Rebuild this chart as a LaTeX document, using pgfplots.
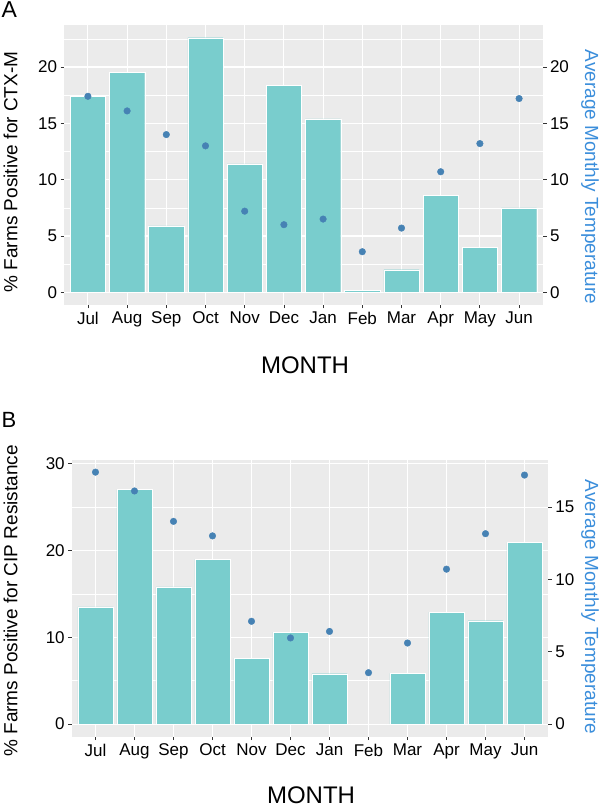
\documentclass[border=0pt]{standalone}
\usepackage{fontspec}
\setmainfont{Liberation Sans}
\usepackage{pgfplots}
\pgfplotsset{compat=1.18}
\definecolor{barc}{HTML}{79CDCD}
\definecolor{bgc}{HTML}{EBEBEB}
\definecolor{ptc}{HTML}{4682B4}
\definecolor{ttlc}{HTML}{3B8EDB}
\definecolor{tkc}{HTML}{333333}
\pgfplotsset{
 gg/.style={
  scale only axis,
  anchor=south west,
  xmin=-0.61, xmax=11.61,
  axis line style={draw=none},
  tick align=outside,
  major tick length=3.5bp,
  minor tick length=0bp,
  tick style={tkc, line width=0.8bp},
  ticklabel style={font=\fontsize{17bp}{19bp}\selectfont, text=black},
  /pgf/number format/assume math mode=true,
  xtick={0,...,11},
  xticklabels={Jul,Aug,Sep,Oct,Nov,Dec,Jan,Feb,Mar,Apr,May,Jun},
 },
 ggleft/.style={
  gg,
  tick pos=left,
  axis background/.style={fill=bgc},
  grid=both,
  xminorgrids=false,
  major grid style={white, line width=1.1bp},
  minor grid style={white, line width=0.55bp},
 },
 ggright/.style={
  gg,
  hide x axis,
  ytick pos=right,
  yticklabel pos=right,
 },
}
\begin{document}
\begin{tikzpicture}
\path[use as bounding box] (0,0) rectangle (600bp,808bp);
% ---------------- Panel A ----------------
\begin{axis}[ggleft, at={(64bp,503bp)}, width=479bp, height=280bp,
  ymin=-1.13, ymax=23.73, ytick={0,5,10,15,20}, minor ytick={2.5,7.5,12.5,17.5,22.5}]
\addplot[ybar, bar width=0.9, fill=barc, draw=white, line width=0.4bp] coordinates {
 (0,17.4) (1,19.5) (2,5.9) (3,22.6) (4,11.4) (5,18.4) (6,15.4) (7,0.15) (8,2.0) (9,8.6) (10,4.0) (11,7.5)};
\end{axis}
\begin{axis}[ggright, at={(64bp,503bp)}, width=479bp, height=280bp,
  ymin=-1.13, ymax=23.73, ytick={0,5,10,15,20}]
\addplot[only marks, mark=*, mark size=3.3bp, color=ptc] coordinates {
 (0,17.4) (1,16.1) (2,14.0) (3,13.0) (4,7.2) (5,6.0) (6,6.5) (7,3.6) (8,5.7) (9,10.7) (10,13.2) (11,17.2)};
\end{axis}
% ---------------- Panel B ----------------
\begin{axis}[ggleft, at={(71.7bp,71.3bp)}, width=476.6bp, height=276.7bp,
  ymin=-1.45, ymax=30.4, ytick={0,10,20,30}, minor ytick={5,15,25}]
\addplot[ybar, bar width=0.9, fill=barc, draw=white, line width=0.4bp] coordinates {
 (0,13.5) (1,27.0) (2,15.8) (3,19.0) (4,7.6) (5,10.6) (6,5.8) (7,0) (8,5.85) (9,12.9) (10,11.9) (11,20.9)};
\end{axis}
\begin{axis}[ggright, at={(71.7bp,71.3bp)}, width=476.6bp, height=276.7bp,
  ymin=-0.87, ymax=18.24, ytick={0,5,10,15}]
\addplot[only marks, mark=*, mark size=3.3bp, color=ptc] coordinates {
 (0,17.4) (1,16.1) (2,14.0) (3,13.0) (4,7.1) (5,5.95) (6,6.4) (7,3.55) (8,5.6) (9,10.7) (10,13.15) (11,17.2)};
\end{axis}
% ---------------- Titles ----------------
\node[anchor=base west, inner sep=0pt, font=\fontsize{23bp}{26bp}\selectfont] at (1.5bp,790bp) {A};
\node[anchor=base west, inner sep=0pt, font=\fontsize{22bp}{25bp}\selectfont] at (1.5bp,380bp) {B};
\node[anchor=base, rotate=90, inner sep=0pt, font=\fontsize{19bp}{22bp}\selectfont] at (17.3bp,636bp) {\% Farms Positive for CTX-M};
\node[anchor=base, rotate=-90, inner sep=0pt, text=ttlc, font=\fontsize{19bp}{22bp}\selectfont] at (585bp,631bp) {Average Monthly Temperature};
\node[anchor=base, inner sep=0pt, font=\fontsize{24bp}{27bp}\selectfont] at (305bp,434bp) {MONTH};
\node[anchor=base, rotate=90, inner sep=0pt, font=\fontsize{19bp}{22bp}\selectfont] at (17.3bp,207bp) {\% Farms Positive for CIP Resistance};
\node[anchor=base, rotate=-90, inner sep=0pt, text=ttlc, font=\fontsize{19bp}{22bp}\selectfont] at (585bp,201bp) {Average Monthly Temperature};
\node[anchor=base, inner sep=0pt, font=\fontsize{24bp}{27bp}\selectfont] at (311bp,4.5bp) {MONTH};
\end{tikzpicture}
\end{document}
